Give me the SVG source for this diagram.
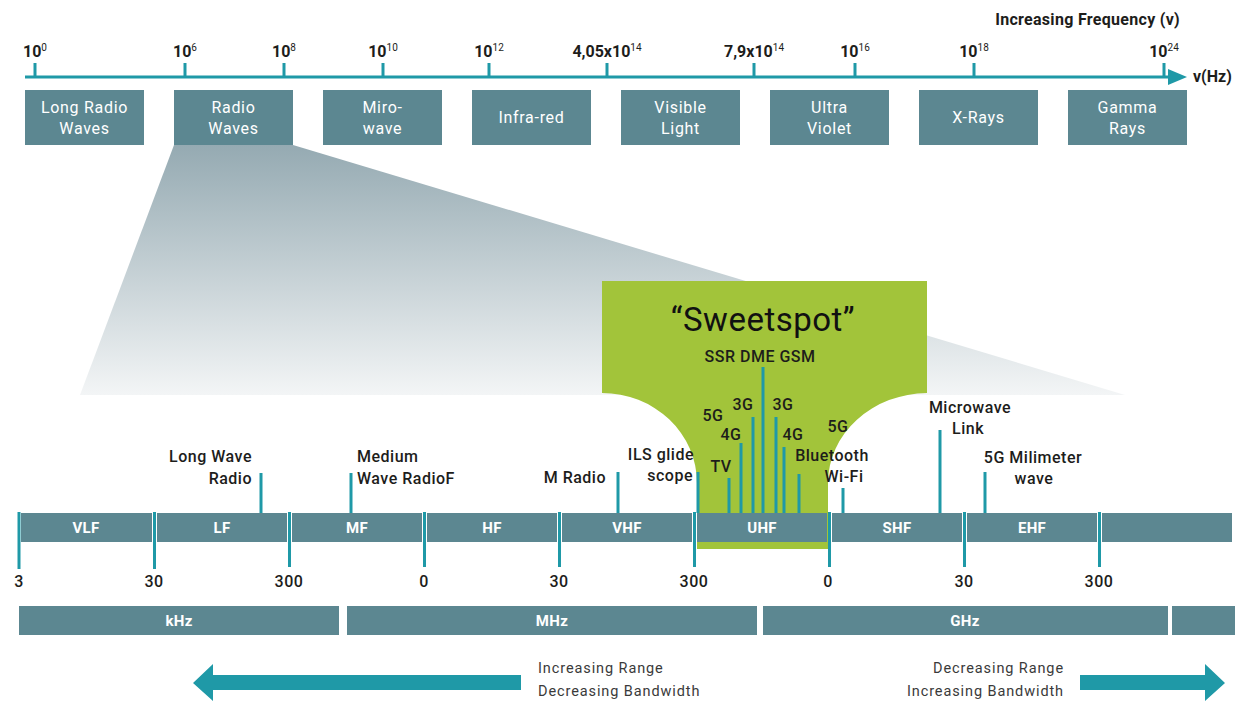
<svg xmlns="http://www.w3.org/2000/svg" width="1237" height="703" viewBox="0 0 1237 703">
<defs>
<linearGradient id="fan" x1="0" y1="145" x2="0" y2="395" gradientUnits="userSpaceOnUse">
<stop offset="0" stop-color="#95aab2"/>
<stop offset="1" stop-color="#f3f5f6"/>
</linearGradient>
<style>
.box{fill:#5c8791}
.bt{font-family:Roboto,"Liberation Sans",sans-serif;font-size:16px;fill:#ffffff;text-anchor:middle;letter-spacing:0.7px}
.bb{font-family:Roboto,"Liberation Sans",sans-serif;font-size:15px;font-weight:bold;fill:#ffffff;text-anchor:middle;letter-spacing:0.3px}
.tl{font-family:Roboto,"Liberation Sans",sans-serif;font-size:16px;font-weight:bold;fill:#1d1d1b;text-anchor:middle}
.sup{font-size:10px;font-weight:normal}
.lb{font-family:Roboto,"Liberation Sans",sans-serif;font-size:16px;font-weight:500;fill:#1d1d1b;letter-spacing:0.5px}
.sm{font-family:Roboto,"Liberation Sans",sans-serif;font-size:14.5px;fill:#3a3a3a;letter-spacing:0.9px}
.tk{stroke:#1f99a7;stroke-width:3}
.teal{fill:#1f99a7}
</style>
</defs>
<rect width="1237" height="703" fill="#ffffff"/>

<g id="fan-shape">
<polygon points="174,145 293,145 1125,395 80,395" fill="url(#fan)"/>
</g>

<g id="sweetspot">
<path d="M602,281 L927,281 L927,393 A100,90 0 0 0 828,483 L828,549 L697,549 L697,483 A95,90 0 0 0 602,393 Z" fill="#a2c43a"/>
<text x="763" y="331" font-family="Roboto,'Liberation Sans',sans-serif" font-size="33" fill="#111111" text-anchor="middle" letter-spacing="0.5">“Sweetspot”</text>
</g>

<g id="top-axis">
<line x1="25" y1="77" x2="1172" y2="77" class="tk"/>
<polygon points="1168,69 1187,77 1168,85" class="teal"/>
<line x1="35" y1="63" x2="35" y2="77" class="tk"/>
<line x1="185" y1="63" x2="185" y2="77" class="tk"/>
<line x1="284" y1="63" x2="284" y2="77" class="tk"/>
<line x1="383" y1="63" x2="383" y2="77" class="tk"/>
<line x1="489" y1="63" x2="489" y2="77" class="tk"/>
<line x1="607" y1="63" x2="607" y2="77" class="tk"/>
<line x1="754" y1="63" x2="754" y2="77" class="tk"/>
<line x1="855" y1="63" x2="855" y2="77" class="tk"/>
<line x1="974" y1="63" x2="974" y2="77" class="tk"/>
<line x1="1164" y1="63" x2="1164" y2="77" class="tk"/>
<text x="35" y="57" class="tl">10<tspan class="sup" dy="-6">0</tspan></text>
<text x="185" y="57" class="tl">10<tspan class="sup" dy="-6">6</tspan></text>
<text x="284" y="57" class="tl">10<tspan class="sup" dy="-6">8</tspan></text>
<text x="383" y="57" class="tl">10<tspan class="sup" dy="-6">10</tspan></text>
<text x="489" y="57" class="tl">10<tspan class="sup" dy="-6">12</tspan></text>
<text x="607" y="57" class="tl">4,05x10<tspan class="sup" dy="-6">14</tspan></text>
<text x="754" y="57" class="tl">7,9x10<tspan class="sup" dy="-6">14</tspan></text>
<text x="855" y="57" class="tl">10<tspan class="sup" dy="-6">16</tspan></text>
<text x="974" y="57" class="tl">10<tspan class="sup" dy="-6">18</tspan></text>
<text x="1164" y="57" class="tl">10<tspan class="sup" dy="-6">24</tspan></text>
<text x="1180" y="25" class="tl" style="text-anchor:end;font-size:16px;letter-spacing:0.3px">Increasing Frequency (v)</text>
<text x="1193" y="82" class="tl" style="text-anchor:start;font-size:16px">v(Hz)</text>
</g>

<g id="long-radio-waves"><rect x="25" y="90" width="119" height="55" class="box"/><text x="84.5" y="113" class="bt">Long Radio</text><text x="84.5" y="134" class="bt">Waves</text></g>
<g id="radio-waves"><rect x="174" y="90" width="119" height="55" class="box"/><text x="233.5" y="113" class="bt">Radio</text><text x="233.5" y="134" class="bt">Waves</text></g>
<g id="microwave"><rect x="323" y="90" width="119" height="55" class="box"/><text x="382.5" y="113" class="bt">Miro-</text><text x="382.5" y="134" class="bt">wave</text></g>
<g id="infra-red"><rect x="472" y="90" width="119" height="55" class="box"/><text x="531.5" y="123" class="bt">Infra-red</text></g>
<g id="visible-light"><rect x="621" y="90" width="119" height="55" class="box"/><text x="680.5" y="113" class="bt">Visible</text><text x="680.5" y="134" class="bt">Light</text></g>
<g id="ultra-violet"><rect x="770" y="90" width="119" height="55" class="box"/><text x="829.5" y="113" class="bt">Ultra</text><text x="829.5" y="134" class="bt">Violet</text></g>
<g id="x-rays"><rect x="919" y="90" width="119" height="55" class="box"/><text x="978.5" y="123" class="bt">X-Rays</text></g>
<g id="gamma-rays"><rect x="1068" y="90" width="119" height="55" class="box"/><text x="1127.5" y="113" class="bt">Gamma</text><text x="1127.5" y="134" class="bt">Rays</text></g>

<g id="band">
<rect x="21" y="513" width="131" height="29" class="box"/>
<rect x="157" y="513" width="130" height="29" class="box"/>
<rect x="292" y="513" width="130" height="29" class="box"/>
<rect x="427" y="513" width="130" height="29" class="box"/>
<rect x="562" y="513" width="130" height="29" class="box"/>
<rect x="697" y="513" width="130" height="29" class="box"/>
<rect x="832" y="513" width="130" height="29" class="box"/>
<rect x="967" y="513" width="130" height="29" class="box"/>
<rect x="1102" y="513" width="130" height="29" class="box"/>
<text x="86" y="533" class="bb">VLF</text>
<text x="222" y="533" class="bb">LF</text>
<text x="357" y="533" class="bb">MF</text>
<text x="492" y="533" class="bb">HF</text>
<text x="627" y="533" class="bb">VHF</text>
<text x="762" y="533" class="bb">UHF</text>
<text x="897" y="533" class="bb">SHF</text>
<text x="1032" y="533" class="bb">EHF</text>
</g>

<g id="connectors">
<line x1="19" y1="512" x2="19" y2="569" class="tk"/>
<line x1="154.5" y1="512" x2="154.5" y2="569" class="tk"/>
<line x1="289.5" y1="512" x2="289.5" y2="567" class="tk"/>
<line x1="424.5" y1="512" x2="424.5" y2="567" class="tk"/>
<line x1="559.5" y1="512" x2="559.5" y2="567" class="tk"/>
<line x1="694.5" y1="512" x2="694.5" y2="567" class="tk"/>
<line x1="829.5" y1="512" x2="829.5" y2="567" class="tk"/>
<line x1="964.5" y1="512" x2="964.5" y2="567" class="tk"/>
<line x1="1099.5" y1="512" x2="1099.5" y2="567" class="tk"/>
<line x1="261" y1="473" x2="261" y2="513" class="tk"/>
<line x1="351" y1="473" x2="351" y2="513" class="tk"/>
<line x1="618" y1="472" x2="618" y2="513" class="tk"/>
<line x1="698" y1="472" x2="698" y2="513" class="tk"/>
<line x1="729" y1="478" x2="729" y2="513" class="tk"/>
<line x1="741" y1="443" x2="741" y2="513" class="tk"/>
<line x1="753" y1="417" x2="753" y2="513" class="tk"/>
<line x1="763" y1="367" x2="763" y2="513" class="tk"/>
<line x1="776" y1="417" x2="776" y2="513" class="tk"/>
<line x1="784" y1="447" x2="784" y2="513" class="tk"/>
<line x1="799" y1="474" x2="799" y2="513" class="tk"/>
<line x1="843" y1="488" x2="843" y2="513" class="tk"/>
<line x1="940" y1="430" x2="940" y2="513" class="tk"/>
<line x1="985" y1="472" x2="985" y2="513" class="tk"/>
</g>

<g id="band-values">
<text x="19" y="587" class="lb" text-anchor="middle">3</text>
<text x="154" y="587" class="lb" text-anchor="middle">30</text>
<text x="289" y="587" class="lb" text-anchor="middle">300</text>
<text x="424" y="587" class="lb" text-anchor="middle">0</text>
<text x="559" y="587" class="lb" text-anchor="middle">30</text>
<text x="694" y="587" class="lb" text-anchor="middle">300</text>
<text x="828" y="587" class="lb" text-anchor="middle">0</text>
<text x="964" y="587" class="lb" text-anchor="middle">30</text>
<text x="1099" y="587" class="lb" text-anchor="middle">300</text>
</g>

<g id="labels">
<text x="252" y="462" class="lb" text-anchor="end">Long Wave</text>
<text x="252" y="484" class="lb" text-anchor="end">Radio</text>
<text x="357" y="462" class="lb">Medium</text>
<text x="357" y="484" class="lb">Wave RadioF</text>
<text x="606" y="483" class="lb" text-anchor="end">M Radio</text>
<text x="694" y="460" class="lb" text-anchor="end">ILS glide</text>
<text x="693" y="481" class="lb" text-anchor="end">scope</text>
<text x="721" y="472" class="lb" text-anchor="middle">TV</text>
<text x="713" y="421" class="lb" text-anchor="middle">5G</text>
<text x="731" y="440" class="lb" text-anchor="middle">4G</text>
<text x="743" y="410" class="lb" text-anchor="middle">3G</text>
<text x="783" y="410" class="lb" text-anchor="middle">3G</text>
<text x="793" y="440" class="lb" text-anchor="middle">4G</text>
<text x="838" y="432" class="lb" text-anchor="middle">5G</text>
<text x="760" y="362" class="lb" text-anchor="middle">SSR DME GSM</text>
<text x="832" y="461" class="lb" text-anchor="middle">Bluetooth</text>
<text x="844" y="482" class="lb" text-anchor="middle">Wi-Fi</text>
<text x="970" y="413" class="lb" text-anchor="middle">Microwave</text>
<text x="968" y="434" class="lb" text-anchor="middle">Link</text>
<text x="1033" y="463" class="lb" text-anchor="middle">5G Milimeter</text>
<text x="1034" y="484" class="lb" text-anchor="middle">wave</text>
</g>

<g id="units">
<rect x="19" y="606" width="320" height="29" class="box"/>
<rect x="347" y="606" width="410" height="29" class="box"/>
<rect x="763" y="606" width="405" height="29" class="box"/>
<rect x="1172" y="606" width="63" height="29" class="box"/>
<text x="179" y="626" class="bb">kHz</text>
<text x="552" y="626" class="bb">MHz</text>
<text x="965" y="626" class="bb">GHz</text>
</g>

<g id="range-left">
<polygon points="193,683 213,664 213,675 521,675 521,690 213,690 213,701" class="teal"/>
<text x="538" y="673" class="sm">Increasing Range</text>
<text x="538" y="696" class="sm">Decreasing Bandwidth</text>
</g>
<g id="range-right">
<polygon points="1080,675 1205,675 1205,664 1225,683 1205,701 1205,690 1080,690" class="teal"/>
<text x="1064" y="673" class="sm" text-anchor="end">Decreasing Range</text>
<text x="1064" y="696" class="sm" text-anchor="end">Increasing Bandwidth</text>
</g>
</svg>
